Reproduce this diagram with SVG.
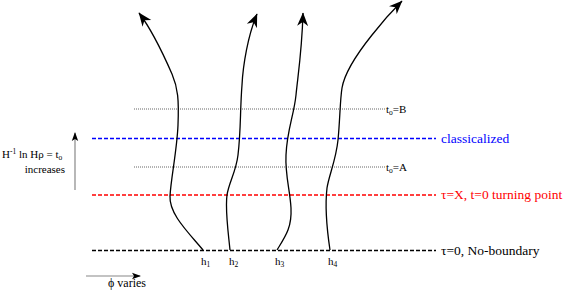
<svg xmlns="http://www.w3.org/2000/svg" width="566" height="298" viewBox="0 0 566 298">
<style>
text{font-family:"Liberation Serif","Times New Roman",Times,"Noto Serif","DejaVu Serif",serif;}
.lbl{font-size:13.5px;}
.sm{font-size:11px;fill:#000;}
.sub{font-size:7.5px;}
.curve{fill:none;stroke:#000;stroke-width:1.3;marker-end:url(#ah);}
.dash{fill:none;stroke-width:1.5;stroke-dasharray:4,2;}
.dot{fill:none;stroke:#666;stroke-width:1;stroke-dasharray:1,1;}
.ax{fill:none;stroke:#888;stroke-width:1.2;marker-end:url(#ahs);}
</style>
<defs>
<marker id="ah" markerUnits="userSpaceOnUse" markerWidth="15" markerHeight="12" refX="13" refY="6" orient="auto" viewBox="0 0 15 12">
<path d="M0,0.5 L13.5,6 L0,11.5 L4,6 z" fill="#000"/>
</marker>
<marker id="ahs" markerUnits="userSpaceOnUse" markerWidth="10" markerHeight="8" refX="8" refY="4" orient="auto" viewBox="0 0 10 8">
<path d="M0,0.8 L9,4 L0,7.2 L2,4 z" fill="#000"/>
</marker>
</defs>
<g id="levels">
<g id="line-B"><line class="dot" x1="134" y1="109" x2="385" y2="109"/><text class="sm" x="386" y="113">t<tspan class="sub" dy="2">o</tspan><tspan dy="-2">=B</tspan></text></g>
<g id="line-classicalized"><line class="dash" stroke="#0000ff" x1="92" y1="138.5" x2="436" y2="138.5"/><text class="lbl" fill="#0000ff" x="441" y="142.5">classicalized</text></g>
<g id="line-A"><line class="dot" x1="134" y1="167" x2="385" y2="167"/><text class="sm" x="386" y="171">t<tspan class="sub" dy="2">o</tspan><tspan dy="-2">=A</tspan></text></g>
<g id="line-turning"><line class="dash" stroke="#ff0000" x1="92" y1="195" x2="436" y2="195"/><text class="lbl" fill="#ff0000" x="441" y="199">τ=X, t=0 turning point</text></g>
<g id="line-noboundary"><line class="dash" stroke="#000" x1="92" y1="250.5" x2="436" y2="250.5"/><text class="lbl" fill="#000" x="441" y="254.5">τ=0, No-boundary</text></g>
</g>
<g id="connectors">
<path class="curve" d="M203,250 C188,232 169,214 170,196 C171,178 177,150 178,125 C179,100 178,88 172,74 C165,58 152,30 139,13"/>
<path class="curve" d="M230,250 C228,230 225,210 227,195 C229,182 236,172 238,155 C241,130 240,110 242,85 C243,65 248,35 257,14"/>
<path class="curve" d="M277,250 C285,237 292,228 291,208 C290,190 285,175 286,155 C287,130 294,115 296,95 C298,75 302,50 303,13"/>
<path class="curve" d="M330,250 C327,230 325,205 327,188 C329,175 336,160 338,140 C340,120 340,100 342,88 C345,70 360,50 372,35 C382,22 392,11 402,1"/>
</g>
<g id="h-labels">
<text class="sm" x="201" y="265">h<tspan class="sub" dy="2">1</tspan></text>
<text class="sm" x="229" y="265">h<tspan class="sub" dy="2">2</tspan></text>
<text class="sm" x="275" y="265">h<tspan class="sub" dy="2">3</tspan></text>
<text class="sm" x="328" y="265">h<tspan class="sub" dy="2">4</tspan></text>
</g>
<g id="time-axis">
<line class="ax" x1="75" y1="190" x2="75" y2="133"/>
<text class="sm" x="2" y="158">H<tspan class="sub" dy="-4">-1</tspan><tspan dy="4"> ln Hρ = t</tspan><tspan class="sub" dy="2">o</tspan></text>
<text class="sm" x="65" y="173" text-anchor="end">increases</text>
</g>
<g id="phi-axis">
<line class="ax" x1="86" y1="276" x2="140" y2="276"/>
<text class="sm" x="108" y="287" style="font-size:12px">ϕ varies</text>
</g>
</svg>
